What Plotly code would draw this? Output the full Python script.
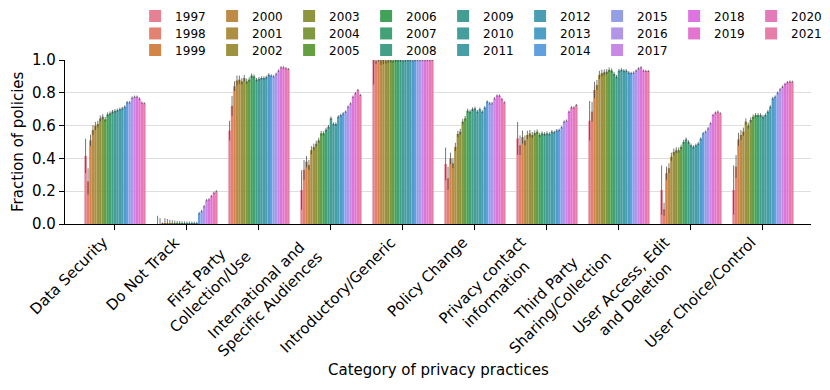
import math
import colorsys
import plotly.graph_objects as go

years = list(range(1997, 2022))

categories = [
    "Data Security", "Do Not Track", "First Party Collection/Use",
    "International and Specific Audiences", "Introductory/Generic",
    "Policy Change", "Privacy contact information",
    "Third Party Sharing/Collection", "User Access, Edit and Deletion",
    "User Choice/Control",
]
tick_labels = [
    "Data Security", "Do Not Track", "First Party<br>Collection/Use",
    "International and<br>Specific Audiences", "Introductory/Generic",
    "Policy Change", "Privacy contact<br>information",
    "Third Party<br>Sharing/Collection", "User Access, Edit<br>and Deletion",
    "User Choice/Control",
]

# fraction of policies per category, one value per year 1997..2021
data_security = [0.415, 0.26, 0.51, 0.573, 0.598, 0.61, 0.644, 0.654, 0.638, 0.668,
                 0.675, 0.685, 0.69, 0.693, 0.70, 0.705, 0.715, 0.742, 0.742, 0.77,
                 0.776, 0.776, 0.764, 0.74, 0.736]
do_not_track = [0.0, 0.0, 0.005, 0.005, 0.005, 0.005, 0.005, 0.005, 0.005, 0.005,
                0.005, 0.005, 0.005, 0.005, 0.005, 0.005, 0.005, 0.065, 0.078, 0.108,
                0.145, 0.15, 0.17, 0.19, 0.2]
first_party = [0.57, 0.72, 0.84, 0.875, 0.88, 0.87, 0.89, 0.87, 0.88, 0.905,
               0.90, 0.88, 0.885, 0.89, 0.89, 0.895, 0.91, 0.905, 0.90, 0.915,
               0.935, 0.955, 0.955, 0.95, 0.945]
international = [0.207, 0.33, 0.38, 0.36, 0.45, 0.47, 0.49, 0.51, 0.553, 0.553,
                 0.575, 0.593, 0.645, 0.61, 0.61, 0.654, 0.664, 0.674, 0.685, 0.715,
                 0.735, 0.776, 0.797, 0.817, 0.787]
introductory = [1.0, 0.995, 1.0, 1.0, 1.0, 0.998, 1.0, 1.0, 0.998, 1.0,
                1.0, 1.0, 0.998, 1.0, 1.0, 1.0, 0.998, 1.0, 1.0, 1.0,
                1.0, 1.0, 1.0, 1.0, 1.0]
policy_change = [0.366, 0.279, 0.40, 0.37, 0.47, 0.549, 0.563, 0.624, 0.644, 0.69,
                 0.685, 0.70, 0.705, 0.685, 0.70, 0.685, 0.71, 0.746, 0.736, 0.736,
                 0.766, 0.783, 0.783, 0.762, 0.742]
privacy_contact = [0.522, 0.48, 0.53, 0.51, 0.543, 0.553, 0.543, 0.555, 0.563, 0.543,
                   0.553, 0.549, 0.553, 0.549, 0.563, 0.56, 0.57, 0.573, 0.59, 0.624,
                   0.63, 0.685, 0.711, 0.711, 0.726]
third_party = [0.63, 0.685, 0.817, 0.848, 0.909, 0.92, 0.925, 0.929, 0.94, 0.935,
               0.915, 0.898, 0.935, 0.94, 0.935, 0.935, 0.923, 0.92, 0.923, 0.935,
               0.949, 0.955, 0.935, 0.933, 0.933]
user_access = [0.207, 0.09, 0.31, 0.34, 0.41, 0.44, 0.45, 0.45, 0.47, 0.50,
               0.516, 0.50, 0.48, 0.47, 0.48, 0.49, 0.52, 0.553, 0.563, 0.583,
               0.614, 0.665, 0.679, 0.685, 0.675]
user_choice = [0.207, 0.35, 0.516, 0.543, 0.563, 0.624, 0.60, 0.634, 0.654, 0.664,
               0.664, 0.664, 0.654, 0.664, 0.685, 0.715, 0.766, 0.776, 0.80, 0.821,
               0.837, 0.854, 0.864, 0.868, 0.868]

values = [data_security, do_not_track, first_party, international, introductory,
          policy_change, privacy_contact, third_party, user_access, user_choice]

# half width of the confidence interval: first three years per category,
# later years shared
ci_1997 = [0.105, 0.05, 0.06, 0.12, 0.15, 0.1, 0.1, 0.12, 0.15, 0.15]
ci_1998 = [0.08, 0.035, 0.06, 0.06, 0.02, 0.07, 0.06, 0.06, 0.04, 0.07]
ci_1999 = [0.035, 0.004, 0.03, 0.035, 0.01, 0.035, 0.04, 0.05, 0.04, 0.04]
ci_later = [0.03, 0.025, 0.02, 0.018, 0.016, 0.014, 0.013, 0.012, 0.011, 0.011,
            0.010, 0.010, 0.009, 0.009, 0.008, 0.008, 0.008, 0.007, 0.007, 0.007,
            0.007, 0.006]

# seaborn "husl" palette, desaturated like sns.barplot does
M = [[3.2406, -1.5372, -0.4986], [-0.9689, 1.8758, 0.0415], [0.0557, -0.2040, 1.0570]]


def husl_to_rgb(h, s, l):
    hr = math.radians(h)
    sin_h, cos_h = math.sin(hr), math.cos(hr)
    sub1 = (l + 16) ** 3 / 1560896.0
    sub2 = sub1 if sub1 > 0.008856 else l / 903.3
    mx = float("inf")
    for m1, m2, m3 in M:
        top = (0.99915 * m1 + 1.05122 * m2 + 1.14460 * m3) * sub2
        rb = 0.86330 * m3 - 0.17266 * m2
        lb = 0.12949 * m3 - 0.38848 * m1
        bottom = (rb * sin_h + lb * cos_h) * sub2
        for t in (0.0, 1.0):
            c = l * (top - 1.05122 * t) / (bottom + 0.17266 * sin_h * t)
            if 0 < c < mx:
                mx = c
    c = mx / 100.0 * s
    u, v = math.cos(hr) * c, math.sin(hr) * c
    t = (l + 16.0) / 116.0
    Y = t ** 3 if t ** 3 > 0.008856 else (116.0 * t - 16.0) / 903.3
    vu = u / (13.0 * l) + 0.19784
    vv = v / (13.0 * l) + 0.46834
    X = -(9.0 * Y * vu) / ((vu - 4.0) * vv - vu * vv)
    Z = (9.0 * Y - 15.0 * vv * Y - vv * X) / (3.0 * vv)
    out = []
    for row in M:
        lin = row[0] * X + row[1] * Y + row[2] * Z
        val = 12.92 * lin if lin <= 0.0031308 else 1.055 * lin ** (1 / 2.4) - 0.055
        out.append(min(max(val, 0.0), 1.0))
    return out


def palette(n):
    cols = []
    for i in range(n):
        h = ((i / n + 0.01) % 1) * 359
        r, g, b = husl_to_rgb(h, 0.9 * 99, 0.65 * 99)
        hh, ll, ss = colorsys.rgb_to_hls(r, g, b)
        r, g, b = colorsys.hls_to_rgb(hh, ll, ss * 0.75)
        cols.append("rgb(%d,%d,%d)" % (round(r * 255), round(g * 255), round(b * 255)))
    return cols


colors = palette(len(years))

# legend is 9 columns filled column by column
col_sizes = [3] * 7 + [2] * 2
legend_row = []
for size in col_sizes:
    legend_row += list(range(size))
legend_names = ["legend", "legend2", "legend3"]

fig = go.Figure()
for i, yr in enumerate(years):
    if i == 0:
        err = ci_1997
    elif i == 1:
        err = ci_1998
    elif i == 2:
        err = ci_1999
    else:
        err = [ci_later[i - 3]] * len(categories)
    fig.add_trace(go.Bar(
        x=categories,
        y=[vals[i] for vals in values],
        name=str(yr),
        marker=dict(color=colors[i], line=dict(width=0)),
        error_y=dict(type="data", array=err, color="rgba(60,60,60,0.7)",
                     thickness=1, width=0),
        legend=legend_names[legend_row[i]],
    ))

font = "DejaVu Sans"
legend_style = dict(orientation="h", xanchor="left", yanchor="middle", x=0.094,
                    entrywidth=32, font=dict(family=font, size=12, color="black"),
                    bgcolor="rgba(0,0,0,0)", borderwidth=0)

# the page body adds an 8px margin, so the figure is 8px smaller
fig.update_layout(
    width=822, height=382,
    margin=dict(l=57, r=19, t=52, b=166, autoexpand=False),
    paper_bgcolor="white", plot_bgcolor="white",
    font=dict(family=font, size=15, color="black"),
    barmode="group", bargap=0.15, bargroupgap=0,
    legend=dict(legend_style, y=1.268),
    legend2=dict(legend_style, y=1.162),
    legend3=dict(legend_style, y=1.061),
    xaxis=dict(range=[-0.694, 9.667], showline=True, linecolor="black", linewidth=1.2,
               ticks="outside", ticklen=5, tickcolor="black", tickwidth=1.2,
               showgrid=False, showticklabels=False),
    yaxis=dict(range=[0, 1], dtick=0.2, tickformat=".1f", showline=True,
               linecolor="black", linewidth=1.2, ticks="outside", ticklen=5,
               tickcolor="black", tickwidth=1.2, showgrid=True, gridcolor="#dedede",
               gridwidth=1, zeroline=False, tickfont=dict(size=15)),
)

for cat, lab in zip(categories, tick_labels):
    fig.add_annotation(x=cat, y=0, xref="x", yref="y", text=lab, showarrow=False,
                       textangle=-45, xanchor="right", yanchor="top", align="center",
                       xshift=-1, yshift=-7, font=dict(size=15))

fig.add_annotation(x=0.5, y=-0.89, xref="paper", yref="paper",
                   text="Category of privacy practices", showarrow=False,
                   xanchor="center", yanchor="middle", font=dict(size=15))
fig.add_annotation(x=-0.063, y=0.5, xref="paper", yref="paper",
                   text="Fraction of policies", showarrow=False, textangle=-90,
                   xanchor="center", yanchor="middle", font=dict(size=15))

fig.write_html("out.html")
